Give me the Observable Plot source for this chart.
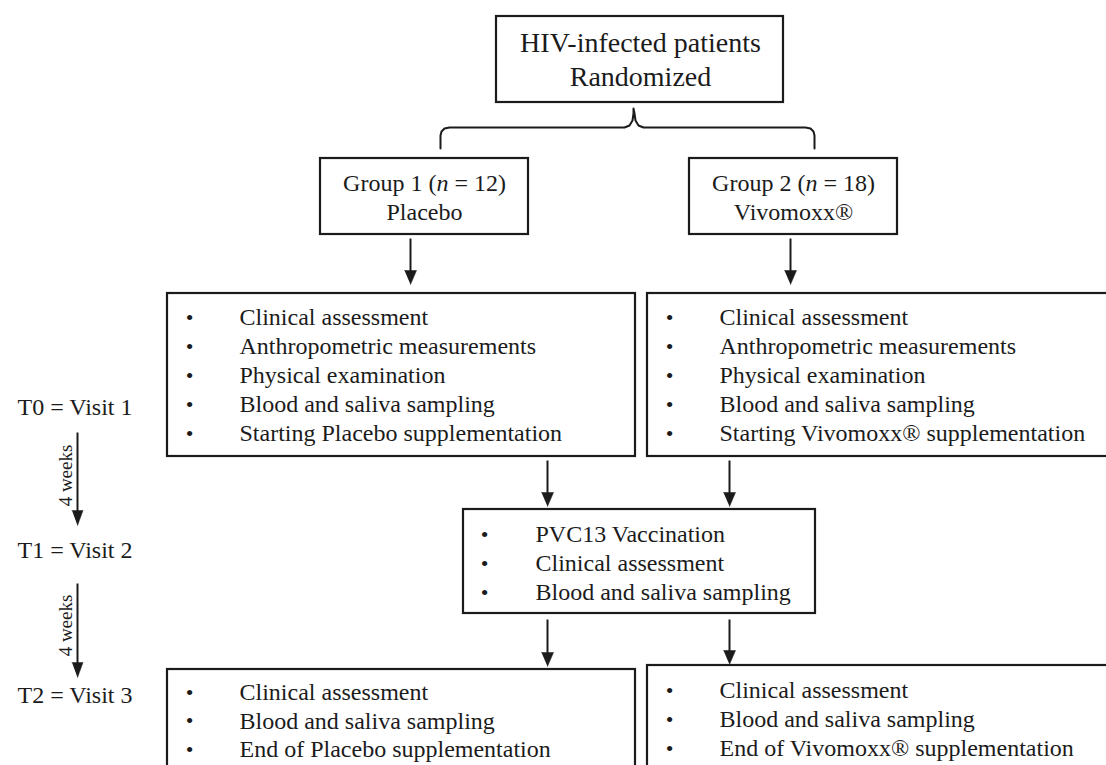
<!DOCTYPE html>
<html>
<head>
<meta charset="utf-8">
<script src="https://cdn.jsdelivr.net/npm/d3@7"></script>
<script src="https://cdn.jsdelivr.net/npm/@observablehq/plot@0.6"></script>
<style>
  html, body { margin: 0; padding: 0; background: #fff; overflow: hidden; }
  #chart { width: 1106px; height: 765px; }
</style>
</head>
<body>
<div id="chart"></div>
<script>
// ---------- content ----------
const rootLines = ["HIV-infected patients", "Randomized"];
const group1Lines = ["Group 1 (n = 12)", "Placebo"];
const group2Lines = ["Group 2 (n = 18)", "Vivomoxx®"];
const visit1Placebo = ["Clinical assessment", "Anthropometric measurements", "Physical examination", "Blood and saliva sampling", "Starting Placebo supplementation"];
const visit1Vivomoxx = ["Clinical assessment", "Anthropometric measurements", "Physical examination", "Blood and saliva sampling", "Starting Vivomoxx® supplementation"];
const visit2Items = ["PVC13 Vaccination", "Clinical assessment", "Blood and saliva sampling"];
const visit3Placebo = ["Clinical assessment", "Blood and saliva sampling", "End of Placebo supplementation"];
const visit3Vivomoxx = ["Clinical assessment", "Blood and saliva sampling", "End of Vivomoxx® supplementation"];
const timeLabels = ["T0 = Visit 1", "T1 = Visit 2", "T2 = Visit 3"];
const intervalLabels = ["4 weeks", "4 weeks"];

// ---------- layout (diagram units = pixels of the reference) ----------
const boxes = [
  {x1: 496, x2: 783, y1: 16, y2: 102},
  {x1: 320, x2: 528, y1: 158, y2: 234},
  {x1: 689, x2: 897, y1: 158, y2: 234},
  {x1: 167, x2: 635, y1: 293, y2: 456},
  {x1: 647, x2: 1120, y1: 293, y2: 456},
  {x1: 463, x2: 815, y1: 509, y2: 613},
  {x1: 167, x2: 635, y1: 669, y2: 780},
  {x1: 647, x2: 1120, y1: 665, y2: 780}
];
const centeredBlocks = [
  {lines: rootLines, x: 640, y: [43, 77], size: 28},
  {lines: group1Lines, x: 424, y: [183, 212], size: 24},
  {lines: group2Lines, x: 793, y: [183, 212], size: 24}
];
const listBlocks = [
  {items: visit1Placebo, bx: 189, tx: 239, y0: 317, dy: 29},
  {items: visit1Vivomoxx, bx: 669, tx: 719, y0: 317, dy: 29},
  {items: visit2Items, bx: 484, tx: 535, y0: 534, dy: 29},
  {items: visit3Placebo, bx: 189, tx: 239, y0: 692, dy: 28.5},
  {items: visit3Vivomoxx, bx: 669, tx: 719, y0: 690, dy: 29}
];
const timeLabelY = [407, 550, 695];
const intervalY = [475, 625];
const arrows = [
  {x: 410, y1: 238, y2: 284, hw: 6, hl: 14},
  {x: 790, y1: 238, y2: 284, hw: 6, hl: 14},
  {x: 547, y1: 460, y2: 506, hw: 6, hl: 14},
  {x: 729, y1: 460, y2: 506, hw: 6, hl: 14},
  {x: 547, y1: 619, y2: 666, hw: 6, hl: 14},
  {x: 729, y1: 619, y2: 664, hw: 6, hl: 14},
  {x: 77, y1: 432, y2: 525, hw: 5.5, hl: 15},
  {x: 77, y1: 583, y2: 677, hw: 5.5, hl: 15}
];
const bracePts = [
  [440, 148], [440, 135], [441, 131], [444, 128], [449, 127],
  [624, 127], [629, 125], [632, 120], [633, 113], [633, 108],
  [634, 113], [635, 120], [638, 125], [643, 127],
  [805, 127], [810, 128], [813, 131], [814, 135], [814, 148]
];

// ---------- derived mark data ----------
const centeredText = centeredBlocks.flatMap(b => b.lines.map((t, i) => ({x: b.x, y: b.y[i], text: t, size: b.size})));
const listText = listBlocks.flatMap(b => b.items.map((t, i) => ({x: b.tx, y: b.y0 + i * b.dy, text: t})));
const bullets = listBlocks.flatMap(b => b.items.map((t, i) => ({x: b.bx, y: b.y0 + i * b.dy})));
const timeText = timeLabels.map((t, i) => ({x: 17, y: timeLabelY[i], text: t}));
const intervalText = intervalLabels.map((t, i) => ({x: 65, y: intervalY[i], text: t}));
const shafts = arrows.map(a => ({x: a.x, y1: a.y1, y2: a.y2 - a.hl + 2}));
const heads = arrows.flatMap((a, k) => [
  {k, x: a.x - a.hw, y: a.y2 - a.hl},
  {k, x: a.x + a.hw, y: a.y2 - a.hl},
  {k, x: a.x, y: a.y2}
]);
const brace = bracePts.map(([x, y]) => ({x, y}));

const ink = "#1b1b1b";
const chart = Plot.plot({
  width: 1106,
  height: 765,
  margin: 0,
  x: {domain: [0, 1106], axis: null},
  y: {domain: [0, 765], reverse: true, axis: null},
  style: {fontFamily: "'Liberation Serif', 'Times New Roman', serif", background: "#fff"},
  marks: [
    Plot.rect(boxes, {x1: "x1", x2: "x2", y1: "y1", y2: "y2", fill: "white", stroke: ink, strokeWidth: 2.2, clip: true}),
    Plot.line(brace, {x: "x", y: "y", stroke: ink, strokeWidth: 2, curve: "linear"}),
    Plot.link(shafts, {x1: "x", x2: "x", y1: "y1", y2: "y2", stroke: ink, strokeWidth: 2}),
    Plot.line(heads, {x: "x", y: "y", z: "k", fill: ink, stroke: ink, strokeWidth: 0.5}),
    Plot.text(centeredText.filter(d => d.size === 28), {x: "x", y: "y", text: "text", fontSize: 28, fill: ink, textAnchor: "middle"}),
    Plot.text(centeredText.filter(d => d.size === 24), {x: "x", y: "y", text: "text", fontSize: 24, fill: ink, textAnchor: "middle"}),
    Plot.text(listText, {x: "x", y: "y", text: "text", fontSize: 24, fill: ink, textAnchor: "start"}),
    Plot.text(bullets, {x: "x", y: "y", text: () => "•", fontSize: 22, fill: ink, textAnchor: "middle"}),
    Plot.text(timeText, {x: "x", y: "y", text: "text", fontSize: 24, fill: ink, textAnchor: "start"}),
    Plot.text(intervalText, {x: "x", y: "y", text: "text", fontSize: 19, fill: ink, textAnchor: "middle", rotate: -90})
  ]
});

// italic "n" in group labels
chart.querySelectorAll("text").forEach(t => {
  const s = t.textContent;
  const m = s.match(/^(.*\()n( = .*)$/);
  if (m && t.children.length === 0) {
    t.textContent = "";
    const ns = "http://www.w3.org/2000/svg";
    const a = document.createElementNS(ns, "tspan"); a.textContent = m[1];
    const b = document.createElementNS(ns, "tspan"); b.textContent = "n"; b.setAttribute("font-style", "italic");
    const c = document.createElementNS(ns, "tspan"); c.textContent = m[2];
    t.append(a, b, c);
  }
});

document.getElementById("chart").append(chart);
</script>
</body>
</html>
